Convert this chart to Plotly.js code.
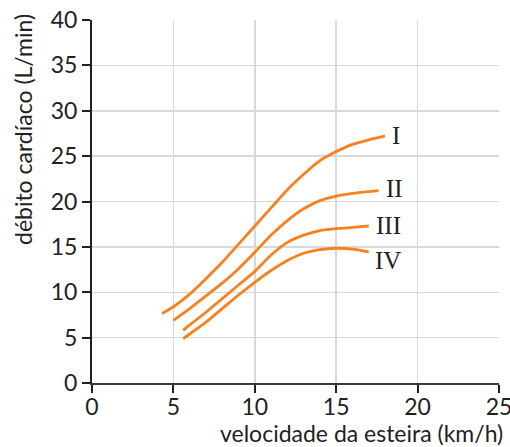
<!DOCTYPE html>
<html>
<head>
<meta charset="utf-8">
<script src="https://cdn.plot.ly/plotly-3.0.1.min.js"></script>
<style>html,body{margin:0;padding:0;background:#fff;}#chart{width:510px;height:447px;}</style>
</head>
<body>
<div id="chart"></div>
<script>
const curveNames = ["I", "II", "III", "IV"];
const xI = [4.3, 5, 6, 7, 8, 9, 10, 11, 12, 13, 14, 15, 16, 17, 18];
const yI = [7.65, 8.4, 9.8, 11.5, 13.3, 15.3, 17.3, 19.3, 21.3, 23.0, 24.5, 25.5, 26.3, 26.8, 27.2];
const xII = [5, 6, 7, 8, 9, 10, 11, 12, 13, 14, 15, 16, 17, 17.6];
const yII = [6.9, 8.2, 9.6, 11.0, 12.6, 14.4, 16.3, 17.9, 19.2, 20.1, 20.6, 20.9, 21.1, 21.2];
const xIII = [5.6, 6, 7, 8, 9, 10, 11, 12, 13, 14, 15, 16, 17];
const yIII = [5.8, 6.4, 7.8, 9.3, 10.8, 12.3, 14.1, 15.5, 16.3, 16.8, 17.0, 17.15, 17.3];
const xIV = [5.6, 6, 7, 8, 9, 10, 11, 12, 13, 14, 15, 16, 17];
const yIV = [4.9, 5.4, 6.7, 8.2, 9.7, 11.1, 12.4, 13.5, 14.3, 14.7, 14.85, 14.75, 14.45];
const labelX = [18.67, 18.56, 18.2, 18.2];
const labelY = [27.3, 21.4, 17.4, 13.5];
const xTickVals = [0, 5, 10, 15, 20, 25];
const yTickVals = [0, 5, 10, 15, 20, 25, 30, 35, 40];
const yGridVals = [5, 10, 15, 20, 25, 30, 35];
const xTitle = "velocidade da esteira (km/h)";
const yTitle = "débito cardíaco (L/min)";

const xs = [xI, xII, xIII, xIV];
const ys = [yI, yII, yIII, yIV];
const orange = "#f5821f";
const traces = xs.map((x, i) => ({
  x: x, y: ys[i], type: "scatter", mode: "lines", name: curveNames[i],
  line: {color: orange, width: 2.8, shape: "spline", smoothing: 0.6},
  hoverinfo: "skip"
}));
traces.push({x: [0], y: [0], yaxis: "y2", mode: "markers", marker: {opacity: 0}, showlegend: false, hoverinfo: "skip"});

const annotations = curveNames.map((n, i) => ({
  x: labelX[i], y: labelY[i], xref: "x", yref: "y", text: n, showarrow: false,
  xanchor: "center", yanchor: "middle",
  font: {family: "Liberation Serif", size: 25, color: "#231f20"}
}));
annotations.push({
  x: 1.015, y: -0.138, xref: "paper", yref: "paper", text: xTitle, showarrow: false,
  xanchor: "right", yanchor: "middle", font: {family: "Lato", size: 23, color: "#231f20"}
});
annotations.push({
  x: -0.1695, y: 0.697, xref: "paper", yref: "paper", text: yTitle, showarrow: false, textangle: -90,
  xanchor: "center", yanchor: "middle", font: {family: "Lato", size: 23, color: "#231f20"}
});

const layout = {
  width: 510, height: 447,
  margin: {l: 92, r: 11, t: 20, b: 64},
  paper_bgcolor: "#fff", plot_bgcolor: "#fff",
  showlegend: false,
  font: {family: "Lato", color: "#231f20"},
  xaxis: {
    range: [0, 25], tickvals: xTickVals, ticks: "outside", ticklen: 8, tickwidth: 2, tickcolor: "#231f20",
    showline: true, linecolor: "#3a3a3a", linewidth: 2, zeroline: false,
    showgrid: true, gridcolor: "#d9d9d9", gridwidth: 1.5, ticklabeloverflow: "allow",
    ticklabelstandoff: -6,
    tickfont: {family: "Lato", size: 23, color: "#231f20"}, fixedrange: true
  },
  yaxis: {
    range: [0, 40], tickvals: yTickVals, ticks: "outside", ticklen: 8, tickwidth: 2, tickcolor: "#231f20",
    showline: true, linecolor: "#231f20", linewidth: 2, zeroline: false, showgrid: false,
    ticklabeloverflow: "allow",
    tickfont: {family: "Lato", size: 23, color: "#231f20"}, fixedrange: true
  },
  yaxis2: {
    overlaying: "y", range: [0, 40], tickvals: yGridVals, showticklabels: false, ticks: "",
    showgrid: true, gridcolor: "#d9d9d9", gridwidth: 1.5, zeroline: false, showline: false, fixedrange: true
  },
  annotations: annotations
};
Plotly.newPlot("chart", traces, layout, {staticPlot: true});
</script>
</body>
</html>
